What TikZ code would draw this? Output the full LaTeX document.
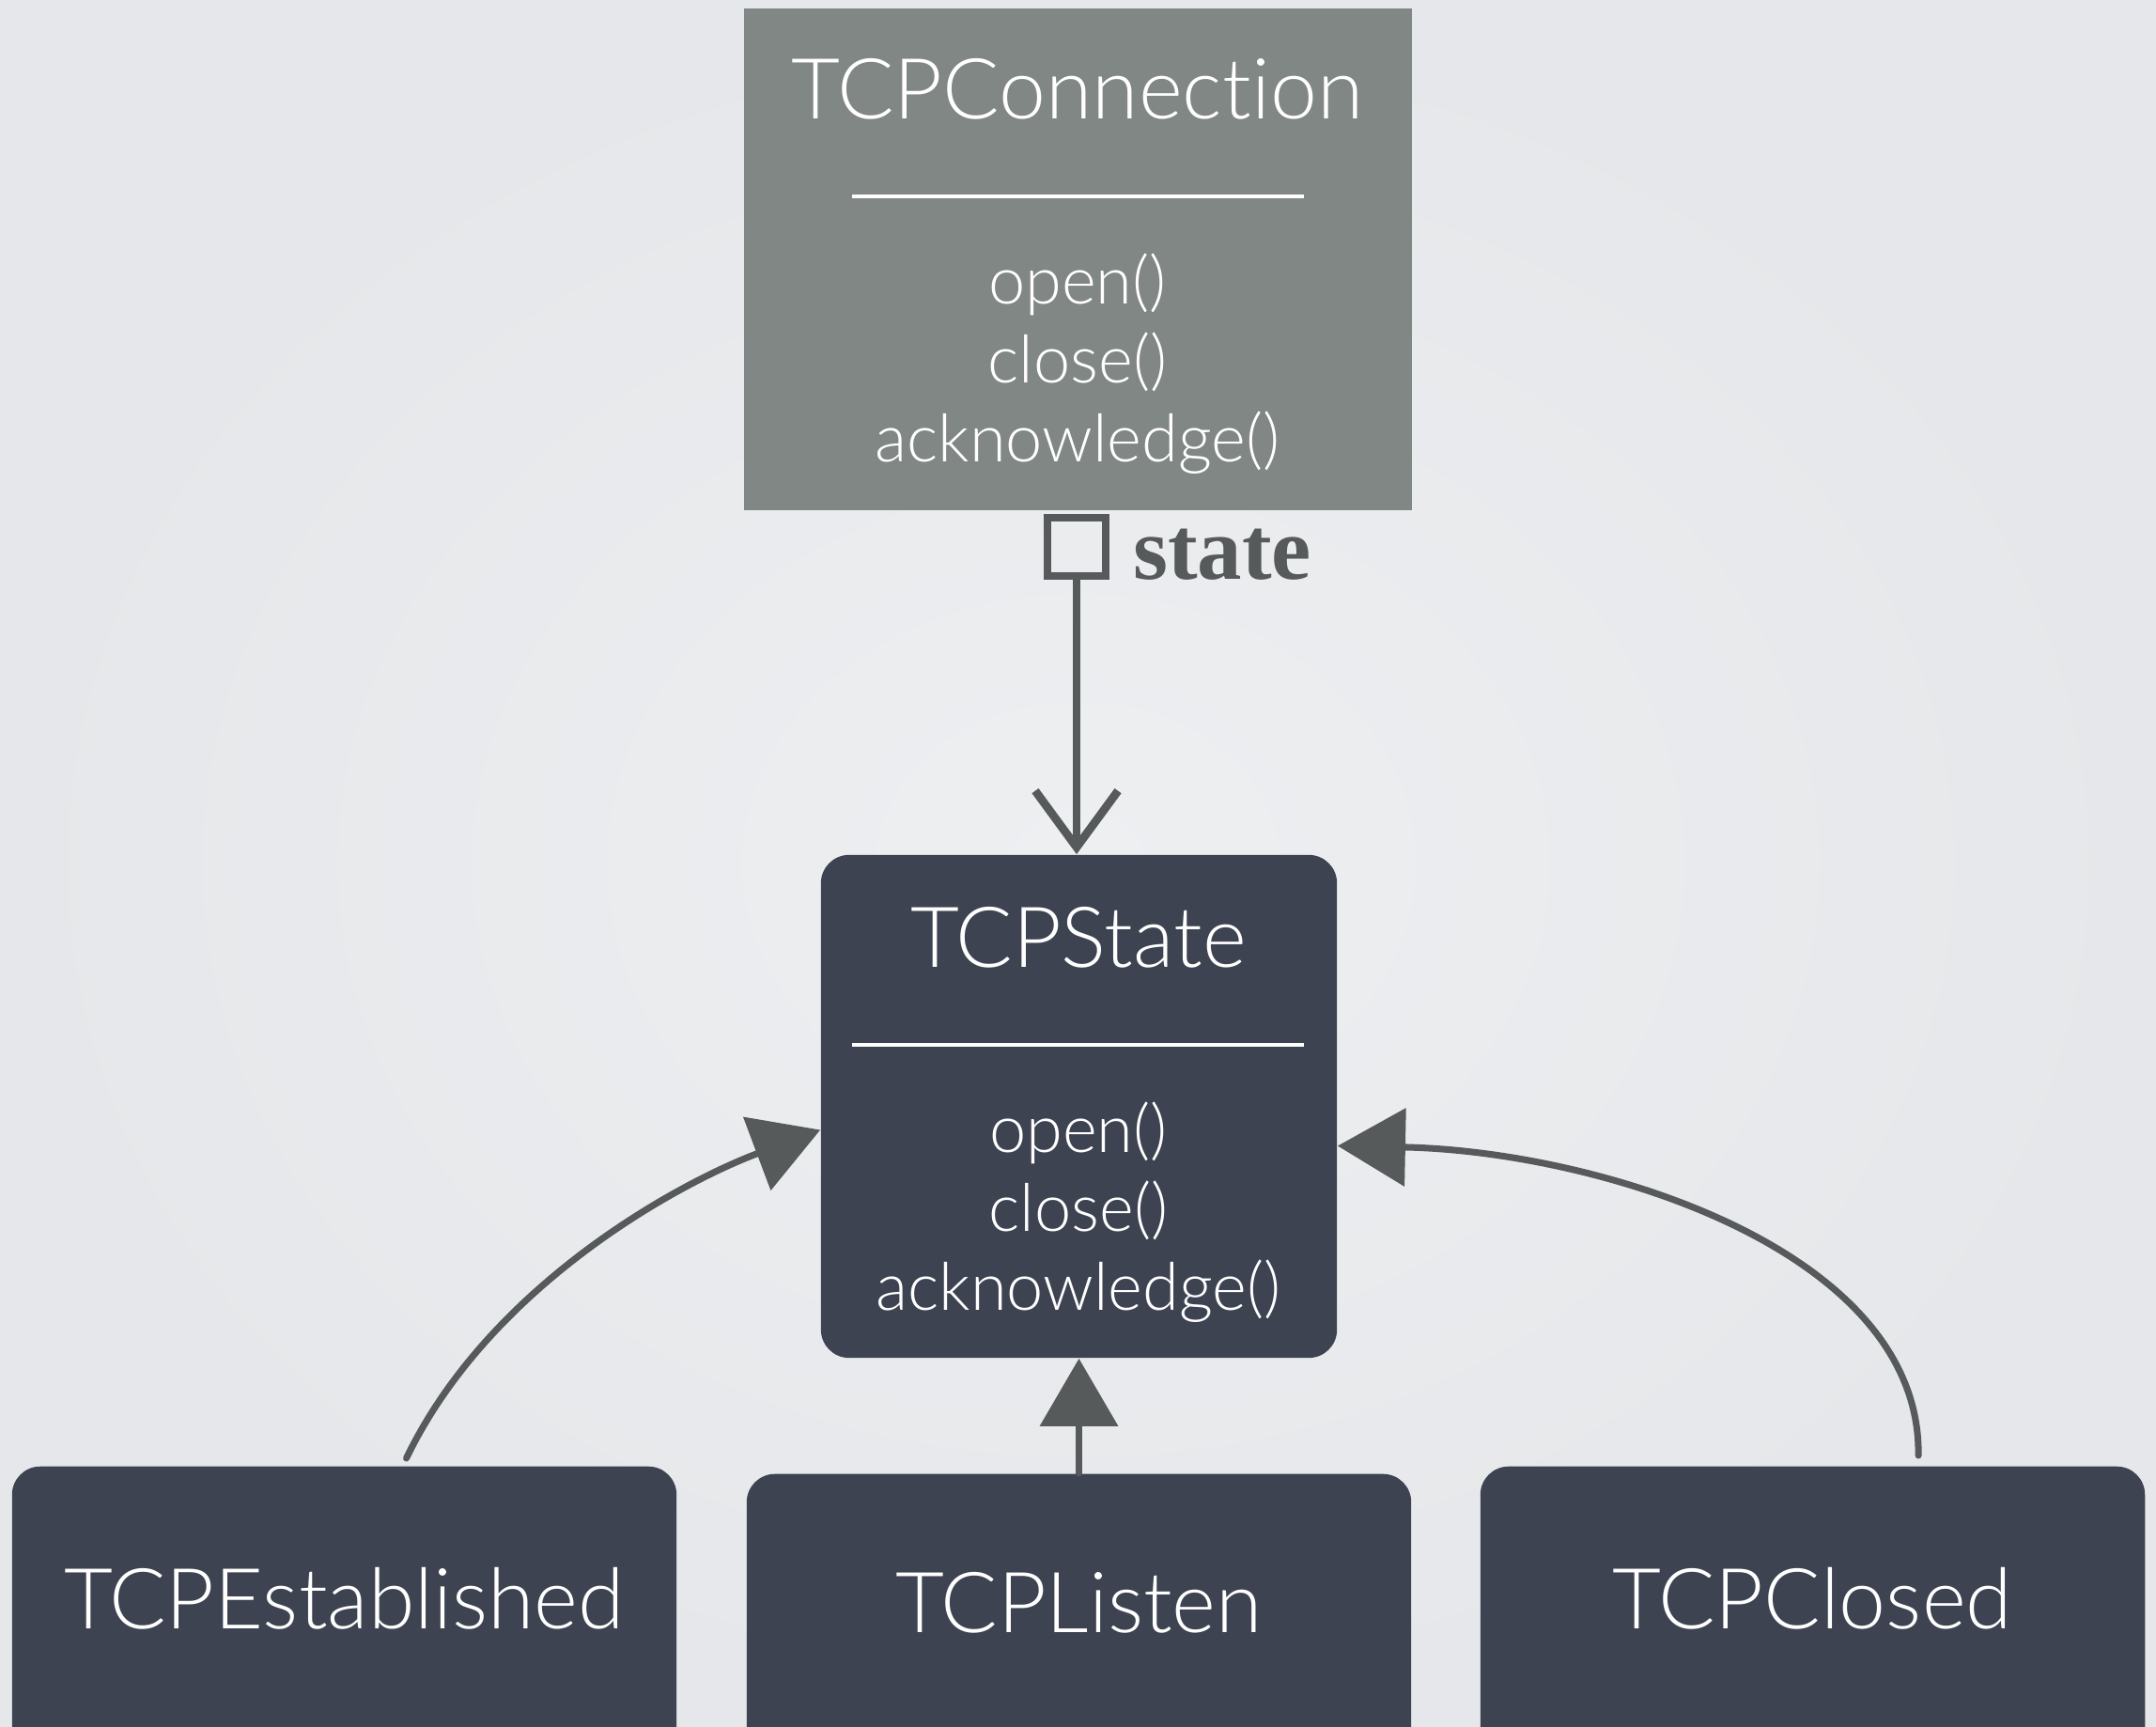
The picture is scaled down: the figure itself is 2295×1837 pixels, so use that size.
\documentclass[tikz,border=0pt]{standalone}
\usepackage{fontspec}
\setmainfont{Lato Light}[Ligatures={NoCommon,NoDiscretionary}]
\newfontfamily\slabfont{Liberation Serif}
\usetikzlibrary{arrows.meta}

\definecolor{bgin}{HTML}{EEEFF1}
\definecolor{bgout}{HTML}{E5E7EA}
\definecolor{contextfill}{HTML}{818785}
\definecolor{statefill}{HTML}{3D4351}
\definecolor{ink}{HTML}{565A5A}

\tikzset{
  contextbox/.style={fill=contextfill, inner sep=0pt},
  classbox/.style={fill=statefill, rounded corners=0.3cm, inner sep=0pt},
  titletext/.style={text=white, font=\fontsize{25.5}{30}\selectfont},
  methodtext/.style={text=white, align=center, font=\fontsize{20}{23.9}\selectfont},
  subclass/.style={classbox, titletext, anchor=north, minimum width=7.07cm, inner xsep=0pt, inner ysep=0pt},
  separator/.style={draw=white, line width=1.1pt},
  sketch/.style={draw=ink, line width=2pt, line cap=round},
  inherits/.style={sketch, -{Triangle[length=0.72cm, width=0.82cm]}},
}

\begin{document}
\begin{tikzpicture}[x=0.01cm, y=-0.01cm]
\useasboundingbox (0,0) rectangle (2295,1837);
\shade[inner color=bgin, outer color=bgout] (0,0) rectangle (2295,1837);

% context class
\node[contextbox, minimum width=7.11cm, minimum height=5.34cm] (conn) at (1147.5,276) {};
\node[titletext] (connTitle) at (1147,95) {TCPConnection};
\draw[separator] (907,209) -- (1388,209);
\node[methodtext] (connOps) at (1147,387) {open()\\close()\\acknowledge()};

% abstract state class
\node[classbox, minimum width=5.49cm, minimum height=5.35cm] (state) at (1148.5,1177.5) {};
\node[titletext] (stateTitle) at (1148,998) {TCPState};
\draw[separator] (907,1112) -- (1388,1112);
\node[methodtext] (stateOps) at (1148,1290) {open()\\close()\\acknowledge()};

% concrete states
\node[subclass, text height=1.73cm, text depth=1.67cm] (est) at (366.5,1560) {TCPEstablished};
\node[subclass, text height=1.69cm, text depth=1.63cm] (listen) at (1148.5,1568) {TCPListen};
\node[subclass, text height=1.73cm, text depth=1.67cm] (closed) at (1929.5,1560) {TCPClosed};

% aggregation
\node[draw=ink, line width=2.5pt, minimum size=0.62cm, inner sep=0pt] (agg) at (1146,582) {};
\node[text=ink, font=\slabfont\bfseries\fontsize{27}{30}\selectfont] (aggLabel) at (1301,590) {state};
\draw[sketch, line width=2.5pt, -{Straight Barb[length=0.6cm, width=0.88cm]}]
  (agg.south) -- (agg.south |- state.north);

% inheritance
\draw[inherits] ([xshift=0.66cm, yshift=0.08cm]est.north)
  .. controls (520,1370) and (720,1260) .. ([yshift=-0.25cm]state.west);
\draw[inherits] (listen.north) -- (state.south);
\draw[inherits] ([xshift=1.125cm, yshift=0.11cm]closed.north)
  .. controls (2045,1330) and (1700,1225) .. ([yshift=-0.42cm]state.east);
\end{tikzpicture}
\end{document}
